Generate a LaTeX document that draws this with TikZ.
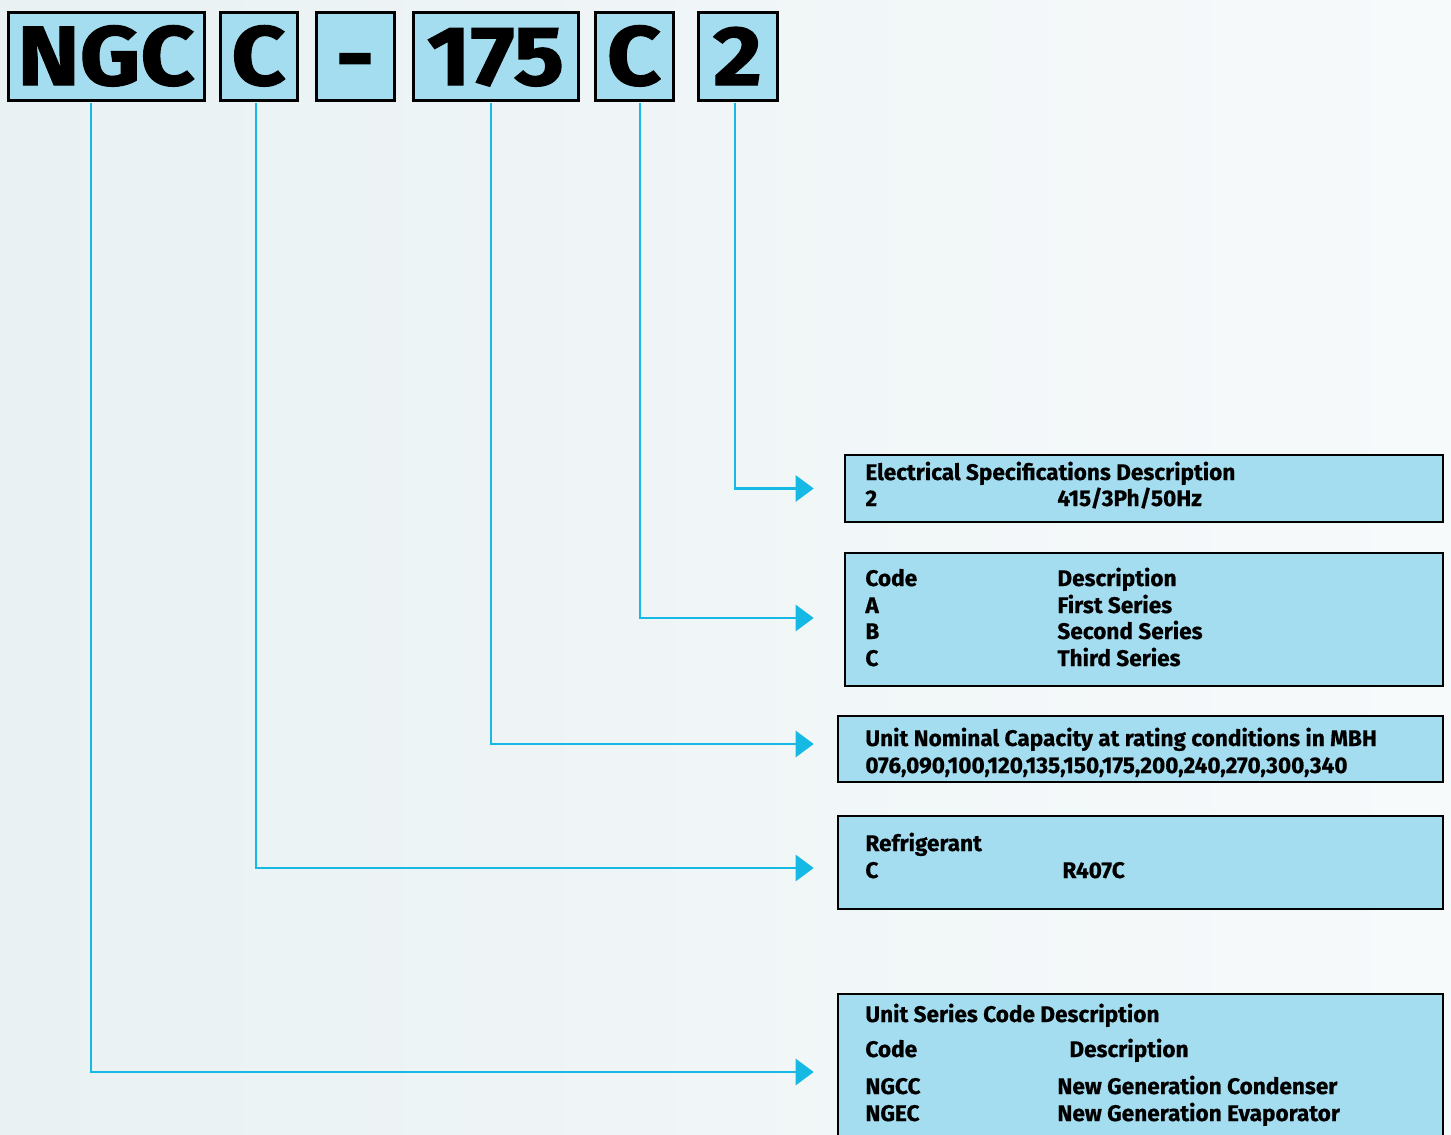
\documentclass[tikz,border=0pt]{standalone}
\usepackage{fontspec}
\setmainfont{Fira Sans}[FakeStretch=1.0,FakeBold=0.6]
\newfontfamily\codefont{Fira Sans}[FakeStretch=1.12,FakeBold=1.5]
\usetikzlibrary{arrows.meta,positioning,calc}
\definecolor{boxblue}{RGB}{165,221,240}
\definecolor{linecyan}{RGB}{22,184,228}
\definecolor{bgleft}{RGB}{233,241,243}
\definecolor{bgright}{RGB}{247,250,251}

\begin{document}
\begin{tikzpicture}[x=0.5pt,y=-0.5pt,
  cd/.style={draw,line width=1.5pt,fill=boxblue,inner sep=0pt,minimum height=44pt,
             text height=29pt,text depth=0pt,
             font=\codefont\bfseries\fontsize{42}{42}\selectfont},
  ib/.style={draw,line width=1.3pt,fill=boxblue,inner sep=0pt},
  tx/.style={anchor=base west,inner sep=0pt,font=\bfseries\fontsize{11.3}{13}\selectfont},
  ln/.style={draw=linecyan,line width=1.25pt,shorten <=0.75pt,
             -{Triangle[length=9pt,width=13pt]}},
]
% ============ page ============
\useasboundingbox (0,0) rectangle (1451,1135);
\shade[left color=bgleft,right color=bgright] (0,0) rectangle (1451,1135);
% ============ model code ============
\node[cd,minimum width=98pt]   (ngc)  at (106,56)   {NGC};
\node[cd,minimum width=38.5pt] (refr) at (258.5,56) {C};
\node[cd,minimum width=39pt]   (dash) at (355,56)   {-};
\node[cd,minimum width=82.5pt] (cap)  at (495.5,56) {175};
\node[cd,minimum width=39pt]   (ser)  at (634,56)   {C};
\node[cd,minimum width=39.5pt] (elec) at (737.5,56) {2};
% ============ description boxes ============
\node[ib,minimum width=299pt,minimum height=33.5pt]   (ielec) at (1144,488.5)   {};
\node[ib,minimum width=299pt,minimum height=66.5pt]   (iser)  at (1144,619.5)   {};
\node[ib,minimum width=302.5pt,minimum height=33pt]   (icap)  at (1140.5,749)   {};
\node[ib,minimum width=302.5pt,minimum height=46.5pt] (irefr) at (1140.5,862.5) {};
\node[ib,minimum width=302.5pt,minimum height=75.5pt] (iunit) at (1140.5,1069.5) {};
% electrical
\node[tx] (e1) at (865,480) {Electrical Specifications Description};
\node[tx] (e2) at (865,506) {2};
\node[tx] (e3) at (1057,506) {415/3Ph/50Hz};
% series
\node[tx] (s1) at (865,586) {Code};
\node[tx] (s2) at (1057,586) {Description};
\node[tx] (s3) at (865,613) {A};
\node[tx] (s4) at (1057,613) {First Series};
\node[tx] (s5) at (865,639) {B};
\node[tx] (s6) at (1057,639) {Second Series};
\node[tx] (s7) at (865,666) {C};
\node[tx] (s8) at (1057,666) {Third Series};
% capacity
\node[tx] (c1) at (865,746) {Unit Nominal Capacity at rating conditions in MBH};
\node[tx] (c2) at (865,773) {076,090,100,120,135,150,175,200,240,270,300,340};
% refrigerant
\node[tx] (r1) at (865,851) {Refrigerant};
\node[tx] (r2) at (865,878) {C};
\node[tx] (r3) at (1062,878) {R407C};
% unit series
\node[tx] (u1) at (865,1022) {Unit Series Code Description};
\node[tx] (u2) at (865,1057) {Code};
\node[tx] (u3) at (1069,1057) {Description};
\node[tx] (u4) at (865,1094) {NGCC};
\node[tx] (u5) at (1057,1094) {New Generation Condenser};
\node[tx] (u6) at (865,1121) {NGEC};
\node[tx] (u7) at (1057,1121) {New Generation Evaporator};
% ============ leaders ============
\draw[ln] ([xshift=-1.25pt]elec.south) |- ([xshift=-15pt]ielec.west);
\draw[ln] ([xshift=3pt]ser.south) |- ([xshift=-15pt,yshift=0.75pt]iser.west);
\draw[ln] ([xshift=-2.25pt]cap.south) |- ([xshift=-11.5pt,yshift=2.5pt]icap.west);
\draw[ln] ([xshift=-1.25pt]refr.south) |- ([xshift=-11.5pt,yshift=-2.75pt]irefr.west);
\draw[ln] ([xshift=-7.5pt]ngc.south) |- ([xshift=-11.5pt,yshift=-1.25pt]iunit.west);
\end{tikzpicture}
\end{document}
